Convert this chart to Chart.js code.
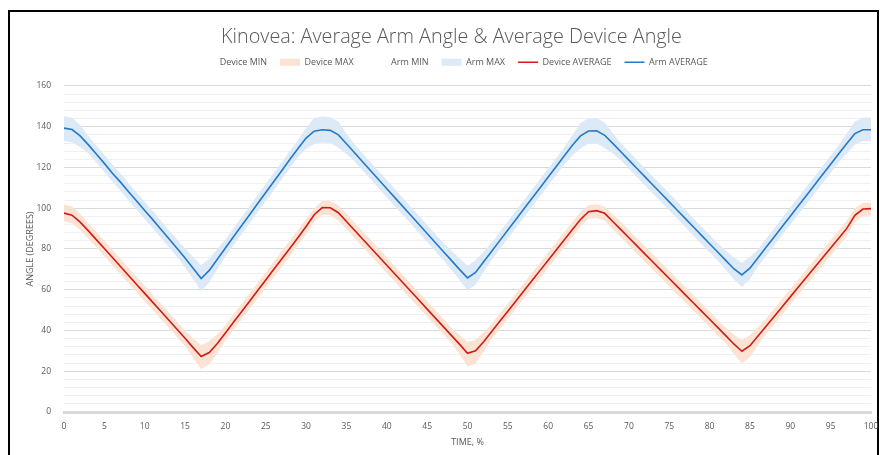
<!DOCTYPE html>
<html>
<head>
<meta charset="utf-8">
<script src="https://cdn.jsdelivr.net/npm/chart.js@4.4.1/dist/chart.umd.min.js"></script>
<style>
  html, body { margin: 0; padding: 0; background: #fff; }
  #wrap { position: relative; width: 880px; height: 455px; overflow: hidden; }
  #frame { position: absolute; left: 8px; top: 10px; width: 871px; height: 470px;
           border: 2px solid #000; border-bottom: none; box-sizing: border-box; }
  #c { position: absolute; left: 0; top: 0; }
</style>
</head>
<body>
<div id="wrap">
  <div id="frame"></div>
  <canvas id="c" width="880" height="455"></canvas>
</div>
<script>
// Time axis, % of cycle
const TIME = [0,1,2,3,4,5,6,7,8,9,10,11,12,13,14,15,16,17,18,19,20,21,22,23,24,25,26,27,28,29,30,
  31,32,33,34,35,36,37,38,39,40,41,42,43,44,45,46,47,48,49,50,51,52,53,54,55,56,57,58,59,60,
  61,62,63,64,65,66,67,68,69,70,71,72,73,74,75,76,77,78,79,80,81,82,83,84,85,86,87,88,89,90,
  91,92,93,94,95,96,97,98,99,100];

// Arm angle (degrees)
const ARM_AVG = [139.3,138.6,135.5,131.2,126.6,122.0,117.2,112.8,108.1,103.5,98.9,94.4,89.7,85.0,80.4,75.6,70.6,65.5,69.5,75.0,
  80.5,86.0,91.4,96.8,102.3,107.7,113.1,118.5,124.0,129.3,134.4,137.8,138.5,138.2,136.0,131.6,127.2,122.8,118.4,114.0,
  109.6,105.2,100.8,96.4,92.0,87.6,83.2,78.8,74.4,70.0,65.8,68.5,73.7,78.9,84.1,89.3,94.5,99.7,104.9,110.1,
  115.3,120.5,125.7,130.9,135.5,137.9,138.0,135.8,131.8,127.7,123.6,119.5,115.4,111.3,107.2,103.1,99.0,94.9,90.8,86.7,
  82.6,78.5,74.4,70.3,67.3,70.6,75.7,80.8,85.9,91.0,96.1,101.2,106.3,111.4,116.5,121.6,126.7,131.8,136.6,138.5,138.5];
const ARM_MAX = [145.1,144.4,141.0,135.4,130.8,126.2,121.4,117.0,112.3,107.7,103.1,98.6,93.9,89.2,84.6,80.4,76.1,72.0,75.5,80.0,
  84.7,90.2,95.6,101.0,106.5,111.9,117.3,122.7,128.2,133.5,139.4,144.3,145.0,144.7,142.5,136.6,131.4,127.0,122.6,118.2,
  113.8,109.4,105.0,100.6,96.2,91.8,87.4,83.0,79.2,75.5,71.8,74.5,78.7,83.1,88.3,93.5,98.7,103.9,109.1,114.3,
  119.5,124.7,129.9,135.9,141.8,144.2,144.3,142.1,136.8,131.9,127.8,123.7,119.6,115.5,111.4,107.3,103.2,99.1,95.0,90.9,
  86.8,82.7,79.2,75.8,73.3,76.1,79.9,85.0,90.1,95.2,100.3,105.4,110.5,115.6,120.7,125.8,130.9,136.8,142.6,144.5,144.5];
const ARM_MIN = [133.0,132.3,130.0,127.0,122.4,117.8,113.0,108.6,103.9,99.3,94.7,90.2,85.5,80.8,76.2,71.0,65.4,59.3,63.5,70.0,
  76.3,81.8,87.2,92.6,98.1,103.5,108.9,114.3,119.8,125.1,129.2,131.5,132.2,131.9,129.7,126.6,123.0,118.6,114.2,109.8,
  105.4,101.0,96.6,92.2,87.8,83.4,79.0,74.6,69.8,64.8,59.6,62.5,68.7,74.7,79.9,85.1,90.3,95.5,100.7,105.9,
  111.1,116.3,121.5,125.9,129.3,131.7,131.8,129.6,126.8,123.5,119.4,115.3,111.2,107.1,103.0,98.9,94.8,90.7,86.6,82.5,
  78.4,74.3,69.8,65.1,61.5,65.1,71.5,76.6,81.7,86.8,91.9,97.0,102.1,107.2,112.3,117.4,122.5,126.8,131.1,133.0,133.0];

// Device angle (degrees)
const DEV_AVG = [97.6,96.6,93.2,89.0,84.6,80.2,75.8,71.4,67.0,62.6,58.2,53.8,49.4,45.0,40.6,36.2,31.6,27.2,29.2,33.6,
  38.8,44.0,49.2,54.4,59.6,64.8,70.0,75.2,80.4,85.6,91.0,96.8,100.3,100.2,97.8,93.5,89.2,84.9,80.6,76.3,
  72.0,67.7,63.4,59.1,54.8,50.5,46.2,41.9,37.6,33.3,28.8,30.0,34.5,39.5,44.5,49.5,54.5,59.5,64.5,69.5,
  74.5,79.5,84.5,89.5,94.5,98.3,98.8,97.5,93.5,89.5,85.5,81.5,77.5,73.5,69.5,65.5,61.5,57.5,53.5,49.5,
  45.5,41.5,37.5,33.4,29.8,32.5,37.3,42.1,46.9,51.7,56.5,61.3,66.1,70.9,75.7,80.5,85.3,90.1,96.5,99.6,99.8];
const DEV_MAX = [101.9,100.9,97.2,92.8,88.4,84.0,79.6,75.2,70.8,66.4,62.0,57.6,53.2,48.8,44.4,40.0,36.1,32.7,34.7,38.1,
  42.6,47.8,53.0,58.2,63.4,68.6,73.8,79.0,84.2,89.4,94.5,100.0,103.5,103.4,101.3,97.3,93.0,88.7,84.4,80.1,
  75.8,71.5,67.2,62.9,58.6,54.3,50.0,45.7,41.4,37.8,34.3,35.5,39.0,43.3,48.3,53.3,58.3,63.3,68.3,73.3,
  78.3,83.3,88.3,93.3,98.0,101.5,102.0,100.7,97.0,93.3,89.3,85.3,81.3,77.3,73.3,69.3,65.3,61.3,57.3,53.3,
  49.3,45.3,41.3,37.9,35.3,37.7,41.6,45.9,50.7,55.5,60.3,65.1,69.9,74.7,79.5,84.3,89.1,93.9,100.0,102.6,102.8];
const DEV_MIN = [93.6,92.6,89.3,85.2,80.8,76.4,72.0,67.6,63.2,58.8,54.4,50.0,45.6,41.2,36.8,32.4,26.8,21.0,23.4,29.0,
  35.0,40.2,45.4,50.6,55.8,61.0,66.2,71.4,76.6,81.8,87.2,93.2,96.7,96.6,94.0,89.7,85.4,81.1,76.8,72.5,
  68.2,63.9,59.6,55.3,51.0,46.7,42.4,38.1,33.8,28.5,22.3,23.8,29.7,35.7,40.7,45.7,50.7,55.7,60.7,65.7,
  70.7,75.7,80.7,85.7,90.9,94.7,95.2,93.9,89.7,85.7,81.7,77.7,73.7,69.7,65.7,61.7,57.7,53.7,49.7,45.7,
  41.7,37.7,33.7,28.6,23.8,27.0,32.8,38.3,43.1,47.9,52.7,57.5,62.3,67.1,71.9,76.7,81.5,86.3,93.1,96.2,96.4];

const TEXT = '#595959';
const FONT = "'Open Sans', 'Noto Sans', sans-serif";
const RED = '#d11a1a';
const BLUE = '#2479c8';
const PEACH = '#fbe3d3';
const PALE_BLUE = '#dce9f6';

const band = (label, values, color, isTop) => ({
  label, data: values, borderWidth: 0, pointRadius: 0, tension: 0,
  backgroundColor: isTop ? color : 'rgba(0,0,0,0)',
  borderColor: 'rgba(0,0,0,0)',
  fill: isTop ? '-1' : false, order: 2
});
const avgLine = (label, values, color) => ({
  label, data: values, borderColor: color, backgroundColor: color,
  borderWidth: 1.6, pointRadius: 0, tension: 0, fill: false, order: 0
});

new Chart(document.getElementById('c'), {
  type: 'line',
  data: {
    labels: TIME,
    datasets: [
      band('Device MIN', DEV_MIN, PEACH, false),
      band('Device MAX', DEV_MAX, PEACH, true),
      band('Arm MIN', ARM_MIN, PALE_BLUE, false),
      band('Arm MAX', ARM_MAX, PALE_BLUE, true),
      avgLine('Device AVERAGE', DEV_AVG, RED),
      avgLine('Arm AVERAGE', ARM_AVG, BLUE)
    ]
  },
  options: {
    responsive: false,
    animation: false,
    layout: { padding: { top: 8, left: 32, right: 9, bottom: 0 } },
    plugins: {
      title: {
        display: true,
        text: 'Kinovea: Average Arm Angle & Average Device Angle',
        color: TEXT,
        font: { family: FONT, size: 19.8, weight: '300' },
        padding: { top: 17, bottom: -4 }
      },
      subtitle: {
        display: true, text: '', weight: 500,
        font: { size: 6 }, padding: { top: 0, bottom: 2 }
      },
      legend: {
        display: true,
        labels: {
          color: TEXT,
          font: { family: FONT, size: 9 },
          usePointStyle: true,
          pointStyleWidth: 20,
          boxHeight: 7,
          padding: 13,
          generateLabels(chart) {
            return chart.data.datasets.map((ds, i) => {
              const isLine = ds.order === 0;
              return {
                text: ds.label,
                datasetIndex: i,
                fontColor: TEXT,
                pointStyle: isLine ? 'line' : 'rect',
                fillStyle: isLine ? ds.borderColor : ds.backgroundColor,
                strokeStyle: isLine ? ds.borderColor : 'rgba(0,0,0,0)',
                lineWidth: isLine ? 1.6 : 0,
                hidden: false
              };
            });
          }
        }
      },
      tooltip: { enabled: false }
    },
    scales: {
      x: {
        type: 'linear', min: 0, max: 100,
        ticks: { stepSize: 5, color: TEXT, font: { family: FONT, size: 8.5 }, padding: 9, maxRotation: 0, autoSkip: false },
        grid: { display: false, drawTicks: false },
        border: { display: true, color: '#d9d9d9', width: 3 },
        title: { display: true, text: 'TIME, %', color: TEXT, font: { family: FONT, size: 9 }, padding: { top: 0, bottom: 7 } },
        afterFit(scale) {
          scale.height = 43;
          scale.paddingLeft = 0;
          scale.paddingRight = 0;
        }
      },
      y: {
        min: 0, max: 160,
        ticks: {
          stepSize: 4, autoSkip: false, color: TEXT, font: { family: FONT, size: 8.5 }, padding: 13,
          callback: v => (v % 20 === 0 ? v : '')
        },
        grid: {
          drawTicks: false,
          color: ctx => (ctx.tick && ctx.tick.value % 20 === 0 ? '#d9d9d9' : '#f0f0f0'),
          lineWidth: 1
        },
        border: { display: false },
        title: { display: true, text: 'ANGLE (DEGREES)', color: TEXT, font: { family: FONT, size: 9 }, padding: { top: -6.5, bottom: 0 } },
        afterFit(scale) { scale.width = 32; }
      }
    }
  }
});
</script>
</body>
</html>
